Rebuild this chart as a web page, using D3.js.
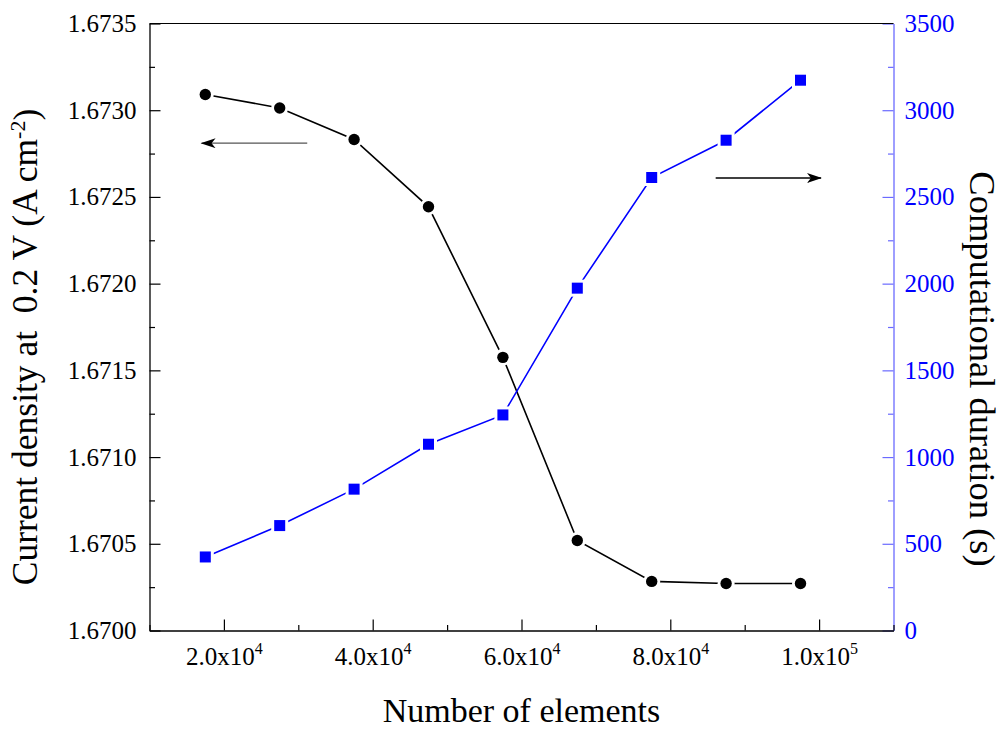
<!DOCTYPE html>
<html>
<head>
<meta charset="utf-8">
<script src="https://cdn.jsdelivr.net/npm/d3@7"></script>
<style>
  body { margin: 0; background: #fff; }
  text { font-family: "Liberation Serif", "Times New Roman", serif; }
</style>
</head>
<body>
<script>
// data
var elements = [17500, 27500, 37500, 47500, 57500, 67500, 77500, 87500, 97500];
var currentDensity = [1.673091, 1.673013, 1.672831, 1.672443, 1.671575, 1.670519, 1.670283, 1.670271, 1.670271];
var duration = [424, 605, 815, 1074, 1243, 1974, 2612, 2827, 3173];

// ticks
var xTicks = [20000, 40000, 60000, 80000, 100000];
var xTickMantissa = ["2.0", "4.0", "6.0", "8.0", "1.0"];
var xTickExponent = ["4", "4", "4", "4", "5"];
var leftTicks = [1.67, 1.6705, 1.671, 1.6715, 1.672, 1.6725, 1.673, 1.6735];
var rightTicks = [0, 500, 1000, 1500, 2000, 2500, 3000, 3500];

// arrow annotations (data units)
var leftArrowX = [31200, 17000];
var leftArrowY = 1.67281;
var rightArrowX = [86100, 100250];
var rightArrowY = 2609;

var font = "Liberation Serif, Times New Roman, serif";

var width = 1007,
  height = 731,
  margin = { top: 23.5, left: 149.5, bottom: 100.5, right: 113.5 };

var svg = d3
  .select("body")
  .append("svg")
  .attr("width", width)
  .attr("height", height);

var x = d3
  .scaleLinear()
  .domain([10000, 110000])
  .range([margin.left, width - margin.right]);

var yL = d3
  .scaleLinear()
  .domain([1.67, 1.6735])
  .range([height - margin.bottom, margin.top]);

var yR = d3
  .scaleLinear()
  .domain([0, 3500])
  .range([height - margin.bottom, margin.top]);

var x0 = x.range()[0],
  x1 = x.range()[1],
  yBottom = yL.range()[0],
  yTop = yL.range()[1];

// minor ticks halfway between the majors
var xMinor = d3.range(10000, 110001, 20000);
var leftMinor = d3.range(0, 7).map(i => 1.67025 + i * 0.0005);
var rightMinor = d3.range(250, 3500, 500);

// left axis
var leftAxis = svg
  .append("g")
  .attr("transform", `translate(${x0},0)`)
  .call(
    d3.axisLeft(yL)
      .tickValues(leftTicks)
      .tickSize(-11)
      .tickSizeOuter(0)
      .tickPadding(13)
      .tickFormat(d3.format(".4f"))
  )
  .attr("font-family", font)
  .attr("font-size", 25);
leftAxis.selectAll("text").attr("fill", "#000");

svg
  .append("g")
  .attr("transform", `translate(${x0},0)`)
  .call(d3.axisLeft(yL).tickValues(leftMinor).tickSize(-5.5).tickSizeOuter(0).tickFormat(""))
  .select(".domain")
  .remove();

// right axis
var rightAxis = svg
  .append("g")
  .attr("transform", `translate(${x1},0)`)
  .call(
    d3.axisRight(yR)
      .tickValues(rightTicks)
      .tickSize(-11)
      .tickSizeOuter(0)
      .tickPadding(11)
      .tickFormat(d3.format("d"))
  )
  .attr("font-family", font)
  .attr("font-size", 25);
rightAxis.selectAll("text").attr("fill", "#0000ff");
rightAxis.selectAll("line, .domain").attr("stroke", "#6a6aff");

svg
  .append("g")
  .attr("transform", `translate(${x1},0)`)
  .call(d3.axisRight(yR).tickValues(rightMinor).tickSize(-5.5).tickSizeOuter(0).tickFormat(""))
  .call(g => g.select(".domain").remove())
  .selectAll("line")
  .attr("stroke", "#6a6aff");

// bottom axis
var bottomAxis = svg
  .append("g")
  .attr("transform", `translate(0,${yBottom})`)
  .call(
    d3.axisBottom(x)
      .tickValues(xTicks)
      .tickSize(-11)
      .tickSizeOuter(0)
      .tickPadding(17)
      .tickFormat("")
  )
  .attr("font-family", font)
  .attr("font-size", 25);

bottomAxis.selectAll(".tick text").each(function(d, i) {
  var t = d3.select(this).attr("fill", "#000");
  t.append("tspan").text(xTickMantissa[i] + "x10");
  t.append("tspan")
    .attr("dy", -11)
    .attr("font-size", 16)
    .text(xTickExponent[i]);
});

svg
  .append("g")
  .attr("transform", `translate(0,${yBottom})`)
  .call(d3.axisBottom(x).tickValues(xMinor).tickSize(-5.5).tickSizeOuter(0).tickFormat(""))
  .select(".domain")
  .remove();

// top frame line
svg
  .append("line")
  .attr("x1", x0)
  .attr("x2", x1)
  .attr("y1", yTop)
  .attr("y2", yTop)
  .attr("stroke", "#000");

svg.selectAll(".domain").attr("stroke-width", 1.3);
svg.selectAll(".tick line").attr("stroke-width", 1.2);

// series
var black = elements.map((e, i) => ({ x: e, y: currentDensity[i] }));
var blue = elements.map((e, i) => ({ x: e, y: duration[i] }));

svg
  .append("path")
  .datum(black)
  .attr("fill", "none")
  .attr("stroke", "#000")
  .attr("stroke-width", 1.6)
  .attr("d", d3.line().x(d => x(d.x)).y(d => yL(d.y)));

svg
  .append("path")
  .datum(blue)
  .attr("fill", "none")
  .attr("stroke", "#0000ff")
  .attr("stroke-width", 1.6)
  .attr("d", d3.line().x(d => x(d.x)).y(d => yR(d.y)));

// white halos leave the small gaps round each marker
svg
  .selectAll(".halo-c")
  .data(black)
  .enter()
  .append("circle")
  .attr("class", "halo-c")
  .attr("cx", d => x(d.x))
  .attr("cy", d => yL(d.y))
  .attr("r", 8.5)
  .attr("fill", "#fff");

svg
  .selectAll(".halo-s")
  .data(blue)
  .enter()
  .append("rect")
  .attr("class", "halo-s")
  .attr("x", d => x(d.x) - 8.5)
  .attr("y", d => yR(d.y) - 8.5)
  .attr("width", 17)
  .attr("height", 17)
  .attr("fill", "#fff");

svg
  .selectAll(".dot")
  .data(black)
  .enter()
  .append("circle")
  .attr("class", "dot")
  .attr("cx", d => x(d.x))
  .attr("cy", d => yL(d.y))
  .attr("r", 5.7)
  .attr("fill", "#000");

svg
  .selectAll(".sq")
  .data(blue)
  .enter()
  .append("rect")
  .attr("class", "sq")
  .attr("x", d => x(d.x) - 5.5)
  .attr("y", d => yR(d.y) - 5.5)
  .attr("width", 11)
  .attr("height", 11)
  .attr("fill", "#0000ff");

// arrows
var defs = svg.append("defs");
defs
  .append("marker")
  .attr("id", "head")
  .attr("markerUnits", "userSpaceOnUse")
  .attr("markerWidth", 16)
  .attr("markerHeight", 12)
  .attr("refX", 14)
  .attr("refY", 5)
  .attr("orient", "auto")
  .append("path")
  .attr("d", "M0,0 L15,5 L0,10 L4,5 Z")
  .attr("fill", "#000");

svg
  .append("line")
  .attr("x1", x(leftArrowX[0]))
  .attr("x2", x(leftArrowX[1]))
  .attr("y1", yL(leftArrowY))
  .attr("y2", yL(leftArrowY))
  .attr("stroke", "#555")
  .attr("stroke-width", 1.4)
  .attr("marker-end", "url(#head)");

svg
  .append("line")
  .attr("x1", x(rightArrowX[0]))
  .attr("x2", x(rightArrowX[1]))
  .attr("y1", yR(rightArrowY))
  .attr("y2", yR(rightArrowY))
  .attr("stroke", "#000")
  .attr("stroke-width", 1.4)
  .attr("marker-end", "url(#head)");

// axis titles
svg
  .append("text")
  .attr("x", (x0 + x1) / 2)
  .attr("y", 722)
  .attr("text-anchor", "middle")
  .style("font-size", "34px")
  .text("Number of elements");

var leftTitle = svg
  .append("text")
  .attr("transform", "translate(37,347) rotate(-90)")
  .attr("text-anchor", "middle")
  .style("font-size", "35.5px")
  .style("white-space", "pre");
leftTitle.append("tspan").text("Current density at  0.2 V (A cm");
leftTitle.append("tspan").attr("dy", "-0.55em").style("font-size", "22px").text("-2");
leftTitle.append("tspan").attr("dy", "0.36em").text(")");

svg
  .append("text")
  .attr("transform", "translate(970,369) rotate(90)")
  .attr("text-anchor", "middle")
  .style("font-size", "36.5px")
  .text("Computational duration (s)");
</script>
</body>
</html>
